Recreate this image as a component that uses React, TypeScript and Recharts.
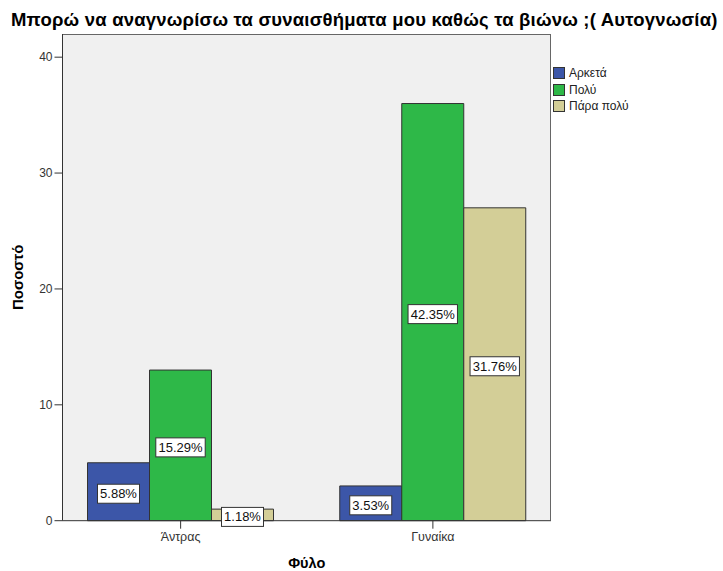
import React from 'react';
import { BarChart, Bar, XAxis, YAxis, CartesianGrid, LabelList } from 'recharts';

const categories = ['Άντρας', 'Γυναίκα'];
const arketa = [5, 3];
const poly = [13, 36];
const paraPoly = [1, 27];
const arketaPct = ['5.88%', '3.53%'];
const polyPct = ['15.29%', '42.35%'];
const paraPolyPct = ['1.18%', '31.76%'];
const yTicks = [0, 10, 20, 30, 40];

const series = [
  { key: 'arketa', name: 'Αρκετά', color: '#3c56a8' },
  { key: 'poly', name: 'Πολύ', color: '#2eb848' },
  { key: 'paraPoly', name: 'Πάρα πολύ', color: '#d3ce97' },
];

const data = categories.map((c, i) => ({
  cat: c,
  arketa: arketa[i],
  poly: poly[i],
  paraPoly: paraPoly[i],
  arketaPct: arketaPct[i],
  polyPct: polyPct[i],
  paraPolyPct: paraPolyPct[i],
}));

const FONT = '"Liberation Sans", Arial, sans-serif';

function BoxLabel(props: any) {
  const { x, y, width, height, value } = props;
  const cx = x + width / 2;
  const cy = y + height / 2 + 2;
  const w = String(value).length * 7.4 + 5;
  const h = 19;
  return (
    <g>
      <rect x={cx - w / 2} y={cy - h / 2} width={w} height={h} fill="#ffffff" stroke="#333333" strokeWidth={1} />
      <text x={cx} y={cy + 4.5} textAnchor="middle" fontSize={13} fill="#111" fontFamily={FONT}>
        {value}
      </text>
    </g>
  );
}

function LegendBox() {
  return (
    <div style={{ position: 'absolute', left: 553, top: 65, fontFamily: FONT, fontSize: 12, color: '#222' }}>
      {series.map((s) => (
        <div key={s.key} style={{ display: 'flex', alignItems: 'center', height: 16.5 }}>
          <span
            style={{
              display: 'inline-block',
              width: 10,
              height: 10,
              background: s.color,
              border: '1px solid #333',
              marginRight: 4,
            }}
          />
          <span>{s.name}</span>
        </div>
      ))}
    </div>
  );
}

export default function App() {
  return (
    <div style={{ position: 'absolute', left: 0, top: 0, width: 723, height: 571, background: '#fff', overflow: 'hidden' }}>
      <div
        style={{
          position: 'absolute',
          left: 11,
          top: 9,
          fontFamily: FONT,
          fontWeight: 'bold',
          fontSize: 18.5,
          letterSpacing: 0.2,
          color: '#000',
          whiteSpace: 'nowrap',
        }}
      >
        Μπορώ να αναγνωρίσω τα συναισθήματα μου καθώς τα βιώνω ;( Αυτογνωσία)
      </div>
      <BarChart
        width={723}
        height={571}
        data={data}
        margin={{ top: 34, right: 172, left: 0, bottom: 0 }}
        barGap={0}
        barSize={62}
        style={{ fontFamily: FONT }}
      >
        <CartesianGrid fill="#f0f0f0" horizontal={false} vertical={false} />
        <XAxis
          dataKey="cat"
          height={50.3}
          padding={{ left: -8, right: -8 }}
          tickSize={8}
          tickMargin={3}
          tick={{ fontSize: 12.5, fill: '#333' }}
          axisLine={{ stroke: '#333' }}
          tickLine={{ stroke: '#333' }}
          label={{ value: 'Φύλο', position: 'insideBottom', offset: 3, style: { fontSize: 14.5, fontWeight: 'bold', fill: '#000' } }}
        />
        <YAxis
          width={62.5}
          domain={[0, 42]}
          ticks={yTicks}
          tickSize={8}
          tickMargin={2}
          tick={{ fontSize: 12, fill: '#333' }}
          axisLine={{ stroke: '#333' }}
          tickLine={{ stroke: '#333' }}
          label={{ value: 'Ποσοστό', angle: -90, position: 'insideLeft', offset: 18, style: { textAnchor: 'middle', fontSize: 15, fontWeight: 'bold', fill: '#000' } }}
        />
        {series.map((s) => (
          <Bar key={s.key} dataKey={s.key} name={s.name} fill={s.color} stroke="#333" strokeWidth={1} isAnimationActive={false}>
            <LabelList dataKey={s.key + 'Pct'} content={<BoxLabel />} />
          </Bar>
        ))}
      </BarChart>
      {/* top and right edges of the plot frame */}
      <div
        style={{
          position: 'absolute',
          left: 62.5,
          top: 34,
          width: 488.5,
          height: 486,
          borderTop: '1px solid #666',
          borderRight: '1px solid #666',
          boxSizing: 'border-box',
          pointerEvents: 'none',
        }}
      />
      <LegendBox />
    </div>
  );
}
